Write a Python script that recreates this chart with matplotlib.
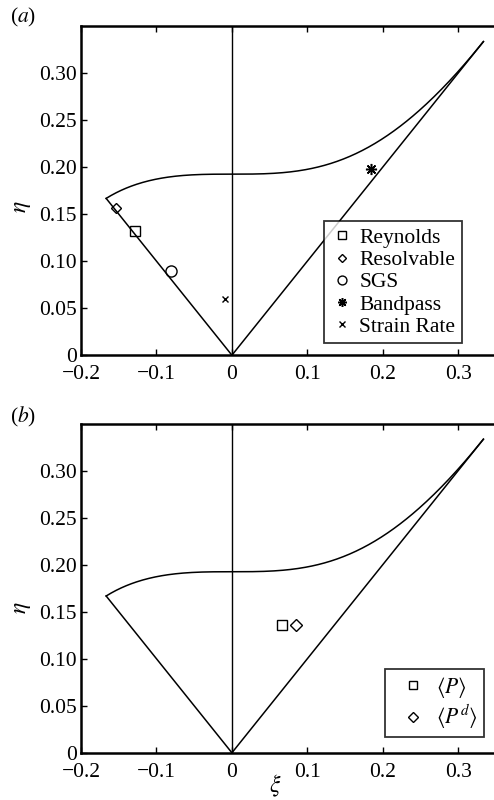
import numpy as np
import matplotlib
matplotlib.use("Agg")
import matplotlib.pyplot as plt
from matplotlib.ticker import FixedLocator, FixedFormatter

plt.rcParams['font.family'] = ['Liberation Serif', 'DejaVu Serif']
plt.rcParams['mathtext.fontset'] = 'stix'

# Lumley triangle vertices
vertex_xi = [-1/6, 0.0, 1/3]
vertex_eta = [1/6, 0.0, 1/3]

# Panel (a) data
a_labels = ['Reynolds', 'Resolvable', 'SGS', 'Bandpass', 'Strain Rate']
a_xi = [-0.129, -0.154, -0.081, 0.184, -0.009]
a_eta = [0.132, 0.156, 0.089, 0.198, 0.060]
a_markers = ['s', 'D', 'o', (8, 2, 0), 'x']

# Panel (b) data
b_labels = [r'$\langle P\rangle$', r'$\langle P^d\rangle$']
b_xi = [0.067, 0.085]
b_eta = [0.136, 0.136]
b_markers = ['s', 'D']

xticks = [-0.2, -0.1, 0, 0.1, 0.2, 0.3]
xticklabels = ['\u22120.2', '\u22120.1', '0', '0.1', '0.2', '0.3']
yticks = [0, 0.05, 0.10, 0.15, 0.20, 0.25, 0.30]
yticklabels = ['0', '0.05', '0.10', '0.15', '0.20', '0.25', '0.30']

FS = 15.5

fig = plt.figure(figsize=(4.94, 8.0), dpi=100)
ax_a = fig.add_axes([0.164, 0.556, 0.840, 0.4116])
ax_b = fig.add_axes([0.164, 0.059, 0.840, 0.4116])


def boundary(ax):
    xi_curve = np.linspace(vertex_xi[0], vertex_xi[2], 300)
    eta_curve = np.sqrt(1/27 + 2 * xi_curve**3)
    ax.plot(xi_curve, eta_curve, color='k', lw=1.1)
    ax.plot(vertex_xi, vertex_eta, color='k', lw=1.1)
    ax.plot([0, 0], [0, 0.35], color='k', lw=1.0)


def style(ax):
    ax.set_xlim(-0.2, 0.35)
    ax.set_ylim(0, 0.35)
    ax.xaxis.set_major_locator(FixedLocator(xticks))
    ax.xaxis.set_major_formatter(FixedFormatter(xticklabels))
    ax.yaxis.set_major_locator(FixedLocator(yticks))
    ax.yaxis.set_major_formatter(FixedFormatter(yticklabels))
    ax.tick_params(direction='in', length=4, width=1, labelsize=FS,
                   top=True, right=False)
    ax.tick_params(axis='x', pad=7)
    ax.tick_params(axis='y', pad=3)
    for s in ['left', 'bottom', 'top', 'right']:
        ax.spines[s].set_linewidth(1.8)
    ax.set_ylabel(r'$\eta$', fontsize=17, rotation=90)
    ax.yaxis.label.set_va('center')


boundary(ax_a)
for x, y, m, lab in zip(a_xi, a_eta, a_markers, a_labels):
    if m == 'x':
        ax_a.plot([x], [y], ls='none', marker=m, color='k', ms=5, mew=1.0, label=lab)
    elif isinstance(m, tuple):
        ax_a.plot([x], [y], ls='none', marker=m, color='k', ms=8, mew=1.1, label=lab)
    elif m == 'o':
        ax_a.plot([x], [y], ls='none', marker=m, mfc='none', mec='k', ms=8, mew=1.0, label=lab)
    elif m == 'D':
        ax_a.plot([x], [y], ls='none', marker=m, mfc='none', mec='k', ms=5.5, mew=1.0, label=lab)
    else:
        ax_a.plot([x], [y], ls='none', marker=m, mfc='none', mec='k', ms=6.5, mew=1.0, label=lab)
style(ax_a)
ax_a.yaxis.set_label_coords(-0.14, 0.45)
leg = ax_a.legend(loc='lower right', bbox_to_anchor=(0.9175, 0.0365), borderaxespad=0,
                  fontsize=FS, frameon=True, fancybox=False, edgecolor='k',
                  handlelength=1.1, handletextpad=0.25, labelspacing=0.1,
                  borderpad=0.3, markerscale=0.8)
leg.get_frame().set_linewidth(1.3)

boundary(ax_b)
for x, y, m, lab in zip(b_xi, b_eta, b_markers, b_labels):
    ax_b.plot([x], [y], ls='none', marker=m, mfc='none', mec='k', ms=6.5 if m == 's' else 6, mew=1.0, label=lab)
style(ax_b)
ax_b.yaxis.set_label_coords(-0.14, 0.44)
ax_b.set_xlabel(r'$\xi$', fontsize=17)
ax_b.xaxis.label.set_va('center')
ax_b.xaxis.set_label_coords(0.467, -0.1)
leg = ax_b.legend(loc='lower right', bbox_to_anchor=(0.971, 0.0465), borderaxespad=0,
                  fontsize=FS, frameon=True, fancybox=False, edgecolor='k',
                  handlelength=2.0, handletextpad=0.1, labelspacing=0.15,
                  borderpad=0.28, markerscale=0.85)
leg.get_frame().set_linewidth(1.3)

fig.text(0.02, 0.972, r'($\it{a}$)', fontsize=FS, ha='left', va='baseline')
fig.text(0.02, 0.472, r'($\it{b}$)', fontsize=FS, ha='left', va='baseline')

fig.savefig('out.png', dpi=100)
